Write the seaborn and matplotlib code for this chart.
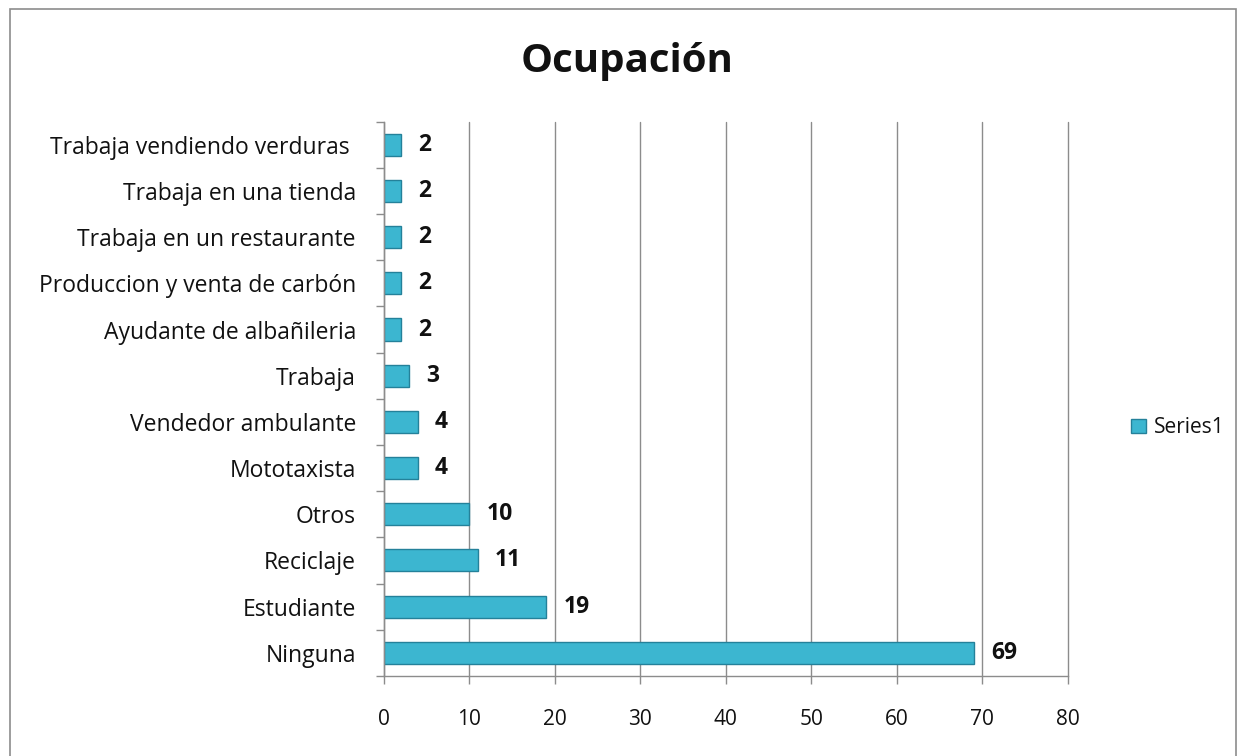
import numpy as np
import pandas as pd
import matplotlib
matplotlib.use('Agg')
import matplotlib.pyplot as plt
import seaborn as sns
from matplotlib.patches import Rectangle
from matplotlib.ticker import FixedLocator

# ================= datos =================
categorias = ['Ninguna', 'Estudiante', 'Reciclaje', 'Otros', 'Mototaxista',
              'Vendedor ambulante', 'Trabaja', 'Ayudante de albañileria',
              'Produccion y venta de carbón', 'Trabaja en un restaurante',
              'Trabaja en una tienda', 'Trabaja vendiendo verduras ']
valores = [69, 19, 11, 10, 4, 4, 3, 2, 2, 2, 2, 2]
serie = 'Series1'
xticks = [0, 10, 20, 30, 40, 50, 60, 70, 80]

COLOR_BAR = '#3cb6d0'
COLOR_EDGE = '#24819a'
GRIS = '#8c8c8c'
NEGRO = '#111111'

sns.set_style('white')
plt.rcParams['font.family'] = ['Open Sans', 'DejaVu Sans']
plt.rcParams['text.color'] = NEGRO
plt.rcParams['xtick.color'] = NEGRO
plt.rcParams['ytick.color'] = NEGRO

# el orden de arriba abajo es el inverso de la lista
df = pd.DataFrame({'Ocupacion': categorias[::-1], 'Valor': valores[::-1]})

fig = plt.figure(figsize=(12.46, 7.56), dpi=100)
fig.patch.set_facecolor('white')
fig.add_artist(Rectangle((0.008, -0.01), 0.984, 0.998, transform=fig.transFigure,
                         fill=False, edgecolor=GRIS, lw=1.2))

ax = fig.add_axes([0.308, 0.106, 0.549, 0.733])
sns.barplot(ax=ax, data=df, x='Valor', y='Ocupacion', orient='h',
            color=COLOR_BAR, edgecolor=COLOR_EDGE, linewidth=1.0, width=0.48,
            saturation=1)

# etiquetas de valor
for i, v in enumerate(df['Valor']):
    ax.text(v + 2.0, i, str(v), va='center', ha='left', fontsize=16.5,
            fontweight='bold', color=NEGRO)

ax.set_xlim(0, 80)
ax.set_ylim(len(df) - 0.5, -0.5)
ax.set_xticks(xticks)
ax.set_xticklabels([str(t) for t in xticks], fontsize=15)
ax.tick_params(axis='x', bottom=True, length=6, width=1, color=GRIS, direction='out',
               pad=18, labelcolor=NEGRO)
ax.tick_params(axis='y', which='major', left=False, length=0, labelsize=16.5, pad=20,
               labelcolor=NEGRO)
ax.yaxis.set_minor_locator(FixedLocator(np.arange(-0.5, len(df), 1)))
ax.tick_params(axis='y', which='minor', left=True, length=6, width=1, color=GRIS, direction='out')
ax.set_xlabel('')
ax.set_ylabel('')
ax.grid(axis='x', color=GRIS, lw=1)
for gl in ax.get_xgridlines():
    gl.set_clip_on(False)
ax.set_axisbelow(True)
for s in ['top', 'right']:
    ax.spines[s].set_visible(False)
for s in ['left', 'bottom']:
    ax.spines[s].set_color(GRIS)
    ax.spines[s].set_linewidth(1)

fig.text(0.503, 0.918, 'Ocupación', ha='center', va='center', fontsize=29, fontweight='bold')

handle = Rectangle((0, 0), 1, 1, facecolor=COLOR_BAR, edgecolor=COLOR_EDGE)
fig.legend([handle], [serie], loc='center left', bbox_to_anchor=(0.893, 0.434),
           frameon=False, fontsize=15, handlelength=0.7, handleheight=0.7, handletextpad=0.4)

plt.savefig('out.png', dpi=100)
